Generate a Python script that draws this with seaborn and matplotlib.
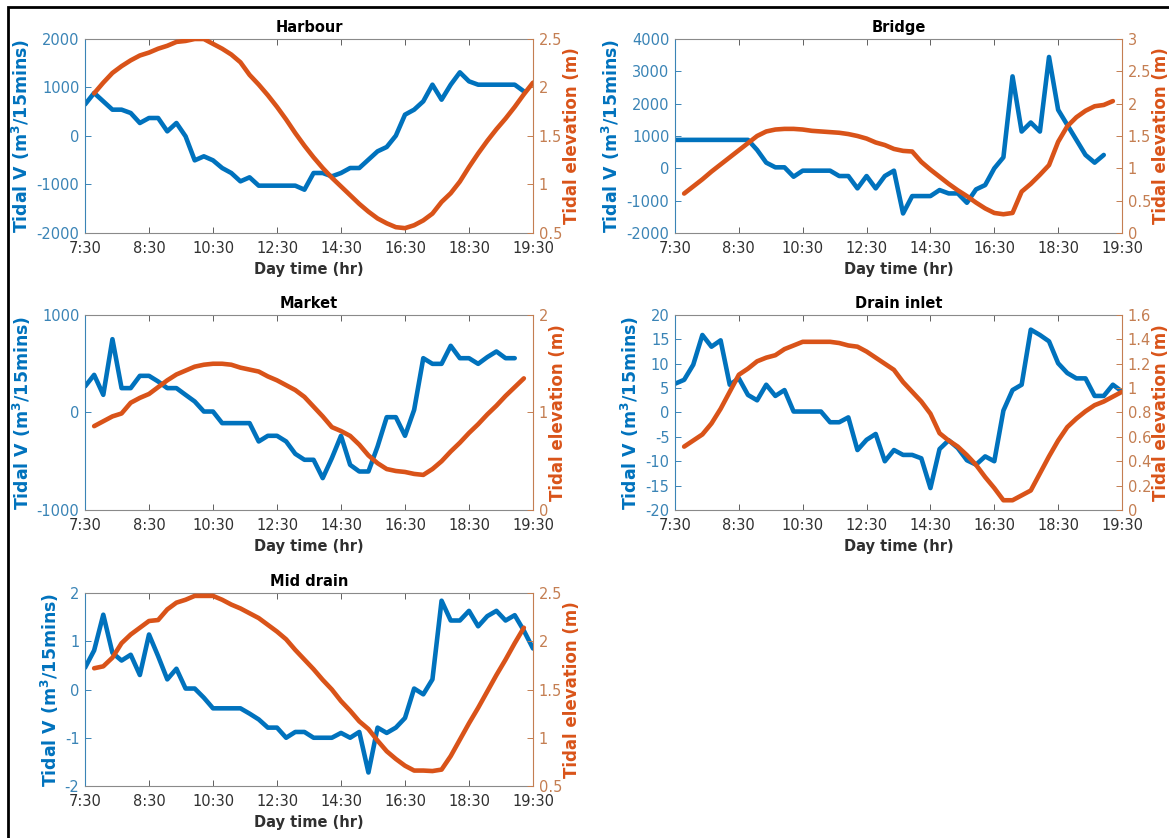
import numpy as np
import pandas as pd
import matplotlib
matplotlib.use("Agg")
import matplotlib.pyplot as plt
import seaborn as sns
from matplotlib.patches import Rectangle
from matplotlib.ticker import MultipleLocator, FuncFormatter

# ---- time axis (15-minute samples, labelled every 7 samples) ----
time_labels = ["7:30", "8:30", "10:30", "12:30", "14:30", "16:30", "18:30", "19:30"]

# ---- Harbour ----
harbour_flow = [650, 887, 715, 543, 543, 474, 268, 371, 371, 96, 268, -7, -502, -419, -502,
                -660, -763, -935, -852, -1024, -1024, -1024, -1024, -1024, -1107, -763, -763,
                -832, -763, -660, -660, -488, -316, -227, 7, 440, 543, 715, 1058, 749, 1058,
                1313, 1127, 1058, 1058, 1058, 1058, 1058, 921]
harbour_elev = [1.94, 2.05, 2.15, 2.22, 2.28, 2.33, 2.36, 2.40, 2.43, 2.47, 2.48, 2.50, 2.50,
                2.45, 2.40, 2.34, 2.26, 2.13, 2.03, 1.92, 1.80, 1.67, 1.53, 1.40, 1.28, 1.17,
                1.07, 0.98, 0.89, 0.80, 0.72, 0.65, 0.60, 0.56, 0.55, 0.58, 0.63, 0.70, 0.82,
                0.91, 1.03, 1.18, 1.32, 1.45, 1.57, 1.68, 1.80, 1.93, 2.05]

# ---- Bridge ----
bridge_flow = [880, 880, 880, 880, 880, 880, 880, 880, 880, 569, 176, 31, 31, -259, -72, -72,
               -72, -72, -238, -238, -620, -238, -620, -238, -72, -1396, -858, -858, -858,
               -672, -776, -776, -1065, -651, -517, 0, 341, 2844, 1138, 1417, 1138, 3444,
               1810, 1344, 879, 414, 176, 414]
bridge_elev = [0.61, 0.72, 0.83, 0.95, 1.06, 1.17, 1.28, 1.39, 1.50, 1.57, 1.60, 1.61, 1.61,
               1.60, 1.58, 1.57, 1.56, 1.55, 1.53, 1.50, 1.46, 1.40, 1.36, 1.30, 1.27, 1.26,
               1.10, 0.98, 0.87, 0.76, 0.66, 0.57, 0.47, 0.38, 0.31, 0.29, 0.31, 0.64, 0.76,
               0.90, 1.05, 1.41, 1.65, 1.79, 1.89, 1.96, 1.98, 2.04]

# ---- Market ----
market_flow = [267, 386, 181, 752, 250, 250, 376, 376, 318, 250, 250, 181, 113, 10, 10, -109,
               -109, -109, -109, -297, -239, -239, -297, -424, -485, -485, -673, -468, -239,
               -537, -605, -605, -349, -48, -48, -239, 27, 557, 499, 499, 684, 557, 557, 499,
               568, 626, 557, 557]
market_elev = [0.86, 0.91, 0.96, 0.99, 1.10, 1.15, 1.19, 1.26, 1.33, 1.39, 1.43, 1.47, 1.49,
               1.50, 1.50, 1.49, 1.46, 1.44, 1.42, 1.37, 1.33, 1.28, 1.23, 1.16, 1.06, 0.96,
               0.85, 0.81, 0.76, 0.67, 0.56, 0.48, 0.42, 0.40, 0.39, 0.37, 0.36, 0.42, 0.50,
               0.60, 0.69, 0.79, 0.88, 0.98, 1.07, 1.17, 1.26, 1.35]

# ---- Drain inlet ----
inlet_flow = [5.9, 6.7, 9.8, 15.9, 13.5, 14.8, 5.7, 7.0, 3.6, 2.5, 5.7, 3.4, 4.6, 0.2, 0.2,
              0.2, 0.2, -2.0, -2.0, -1.0, -7.7, -5.6, -4.4, -10.0, -7.7, -8.7, -8.7, -9.4,
              -15.5, -7.5, -5.7, -7.3, -9.8, -10.7, -9.0, -10.0, 0.4, 4.6, 5.7, 17.0, 15.9,
              14.6, 10.1, 8.1, 7.0, 7.0, 3.4, 3.4, 5.7, 4.3]
inlet_elev = [0.52, 0.57, 0.62, 0.71, 0.83, 0.97, 1.11, 1.16, 1.22, 1.25, 1.27, 1.32, 1.35,
              1.38, 1.38, 1.38, 1.38, 1.37, 1.35, 1.34, 1.30, 1.25, 1.20, 1.15, 1.05, 0.97,
              0.89, 0.79, 0.63, 0.57, 0.52, 0.45, 0.37, 0.27, 0.18, 0.08, 0.08, 0.12, 0.16,
              0.30, 0.44, 0.57, 0.68, 0.75, 0.81, 0.86, 0.89, 0.93, 0.97]

# ---- Mid drain ----
mid_flow = [0.45, 0.81, 1.55, 0.76, 0.60, 0.72, 0.30, 1.14, 0.69, 0.21, 0.43, 0.02, 0.02,
            -0.17, -0.39, -0.39, -0.39, -0.39, -0.50, -0.62, -0.79, -0.79, -1.00, -0.88,
            -0.88, -1.00, -1.00, -1.00, -0.90, -1.00, -0.88, -1.72, -0.79, -0.90, -0.79,
            -0.59, 0.02, -0.10, 0.21, 1.84, 1.43, 1.43, 1.63, 1.31, 1.52, 1.63, 1.43, 1.54,
            1.22, 0.85]
mid_elev = [1.72, 1.74, 1.83, 1.98, 2.07, 2.14, 2.21, 2.22, 2.33, 2.40, 2.43, 2.47, 2.47,
            2.47, 2.43, 2.38, 2.34, 2.29, 2.24, 2.17, 2.10, 2.02, 1.91, 1.81, 1.71, 1.60,
            1.50, 1.38, 1.28, 1.17, 1.09, 0.97, 0.86, 0.78, 0.71, 0.66, 0.66, 0.655, 0.67,
            0.81, 0.98, 1.15, 1.31, 1.48, 1.65, 1.81, 1.98, 2.14]

BLUE = "#0072BD"
ORANGE = "#D95319"
BLUE_TICK = "#3a84b6"
ORANGE_TICK = "#c47e52"
DARK = "#303030"

sns.set_theme(style="ticks")
plt.rcParams["font.family"] = ["DejaVu Sans"]

fig = plt.figure(figsize=(11.69, 8.38), dpi=100)
W, H = 1169.0, 838.0


def axes_at(left, top, right, bottom):
    return fig.add_axes([left / W, 1 - bottom / H, (right - left) / W, (bottom - top) / H])


panels = [
    ("Harbour", harbour_flow, harbour_elev, (-2000, 2000), 1000, (0.5, 2.5), 0.5, (85, 39, 533, 233)),
    ("Bridge", bridge_flow, bridge_elev, (-2000, 4000), 1000, (0, 3), 0.5, (675, 39, 1122, 233)),
    ("Market", market_flow, market_elev, (-1000, 1000), 1000, (0, 2), 1, (85, 315, 533, 510)),
    ("Drain inlet", inlet_flow, inlet_elev, (-20, 20), 5, (0, 1.6), 0.2, (675, 315, 1122, 510)),
    ("Mid drain", mid_flow, mid_elev, (-2, 2), 1, (0.5, 2.5), 0.5, (85, 593, 533, 786)),
]

gfmt = FuncFormatter(lambda v, p: f"{v:g}")

for title, flow, elev, ylim_l, step_l, ylim_r, step_r, box in panels:
    ax = axes_at(*box)
    df_flow = pd.DataFrame({"step": np.arange(len(flow)), "flow": flow})
    df_elev = pd.DataFrame({"step": np.arange(1, len(elev) + 1), "elev": elev})

    sns.lineplot(data=df_flow, x="step", y="flow", ax=ax, color=BLUE, linewidth=3.3)
    ax2 = ax.twinx()
    sns.lineplot(data=df_elev, x="step", y="elev", ax=ax2, color=ORANGE, linewidth=3.3)

    ax.set_xlim(0, 49)
    ax.set_xticks(np.arange(0, 50, 7))
    ax.set_xticklabels(time_labels)
    ax.set_ylim(*ylim_l)
    ax.yaxis.set_major_locator(MultipleLocator(step_l))
    ax.yaxis.set_major_formatter(gfmt)
    ax2.set_ylim(*ylim_r)
    ax2.yaxis.set_major_locator(MultipleLocator(step_r))
    ax2.yaxis.set_major_formatter(gfmt)

    ax.tick_params(axis="x", direction="in", top=True, bottom=True, length=4, width=0.7,
                   color="#606060", labelcolor=DARK, labelsize=10.5, pad=6)
    ax.tick_params(axis="y", direction="in", left=True, right=False, length=4, width=0.7,
                   color=BLUE_TICK, labelcolor=BLUE_TICK, labelsize=10.5, pad=4)
    ax2.tick_params(axis="y", direction="in", right=True, length=4, width=0.7,
                    color=ORANGE_TICK, labelcolor=ORANGE_TICK, labelsize=10.5, pad=4)

    for side in ("top", "bottom"):
        ax.spines[side].set_color("#8a8a8a")
        ax.spines[side].set_linewidth(0.8)
    ax.spines["left"].set_color(BLUE_TICK)
    ax.spines["left"].set_linewidth(0.8)
    ax.spines["right"].set_visible(False)
    for side in ("top", "bottom", "left"):
        ax2.spines[side].set_visible(False)
    ax2.spines["right"].set_color(ORANGE_TICK)
    ax2.spines["right"].set_linewidth(0.8)

    ax.set_title(title, fontsize=10.5, fontweight="bold", color="black", pad=5)
    ax.set_xlabel("Day time (hr)", fontsize=10.5, fontweight="bold", color=DARK, labelpad=4)
    ax.set_ylabel(r"Tidal V (m$^{\mathbf{3}}$/15mins)", fontsize=12.5, fontweight="bold",
                  color=BLUE, labelpad=3)
    ax2.set_ylabel("Tidal elevation (m)", fontsize=12, fontweight="bold", color=ORANGE,
                   labelpad=0.5)

# outer frame around the figure
fig.add_artist(Rectangle((7.5 / W, -0.05), 1.2, 1.05 - 7.5 / H, transform=fig.transFigure,
                         fill=False, edgecolor="black", linewidth=2))

fig.savefig("out.png", dpi=100)
